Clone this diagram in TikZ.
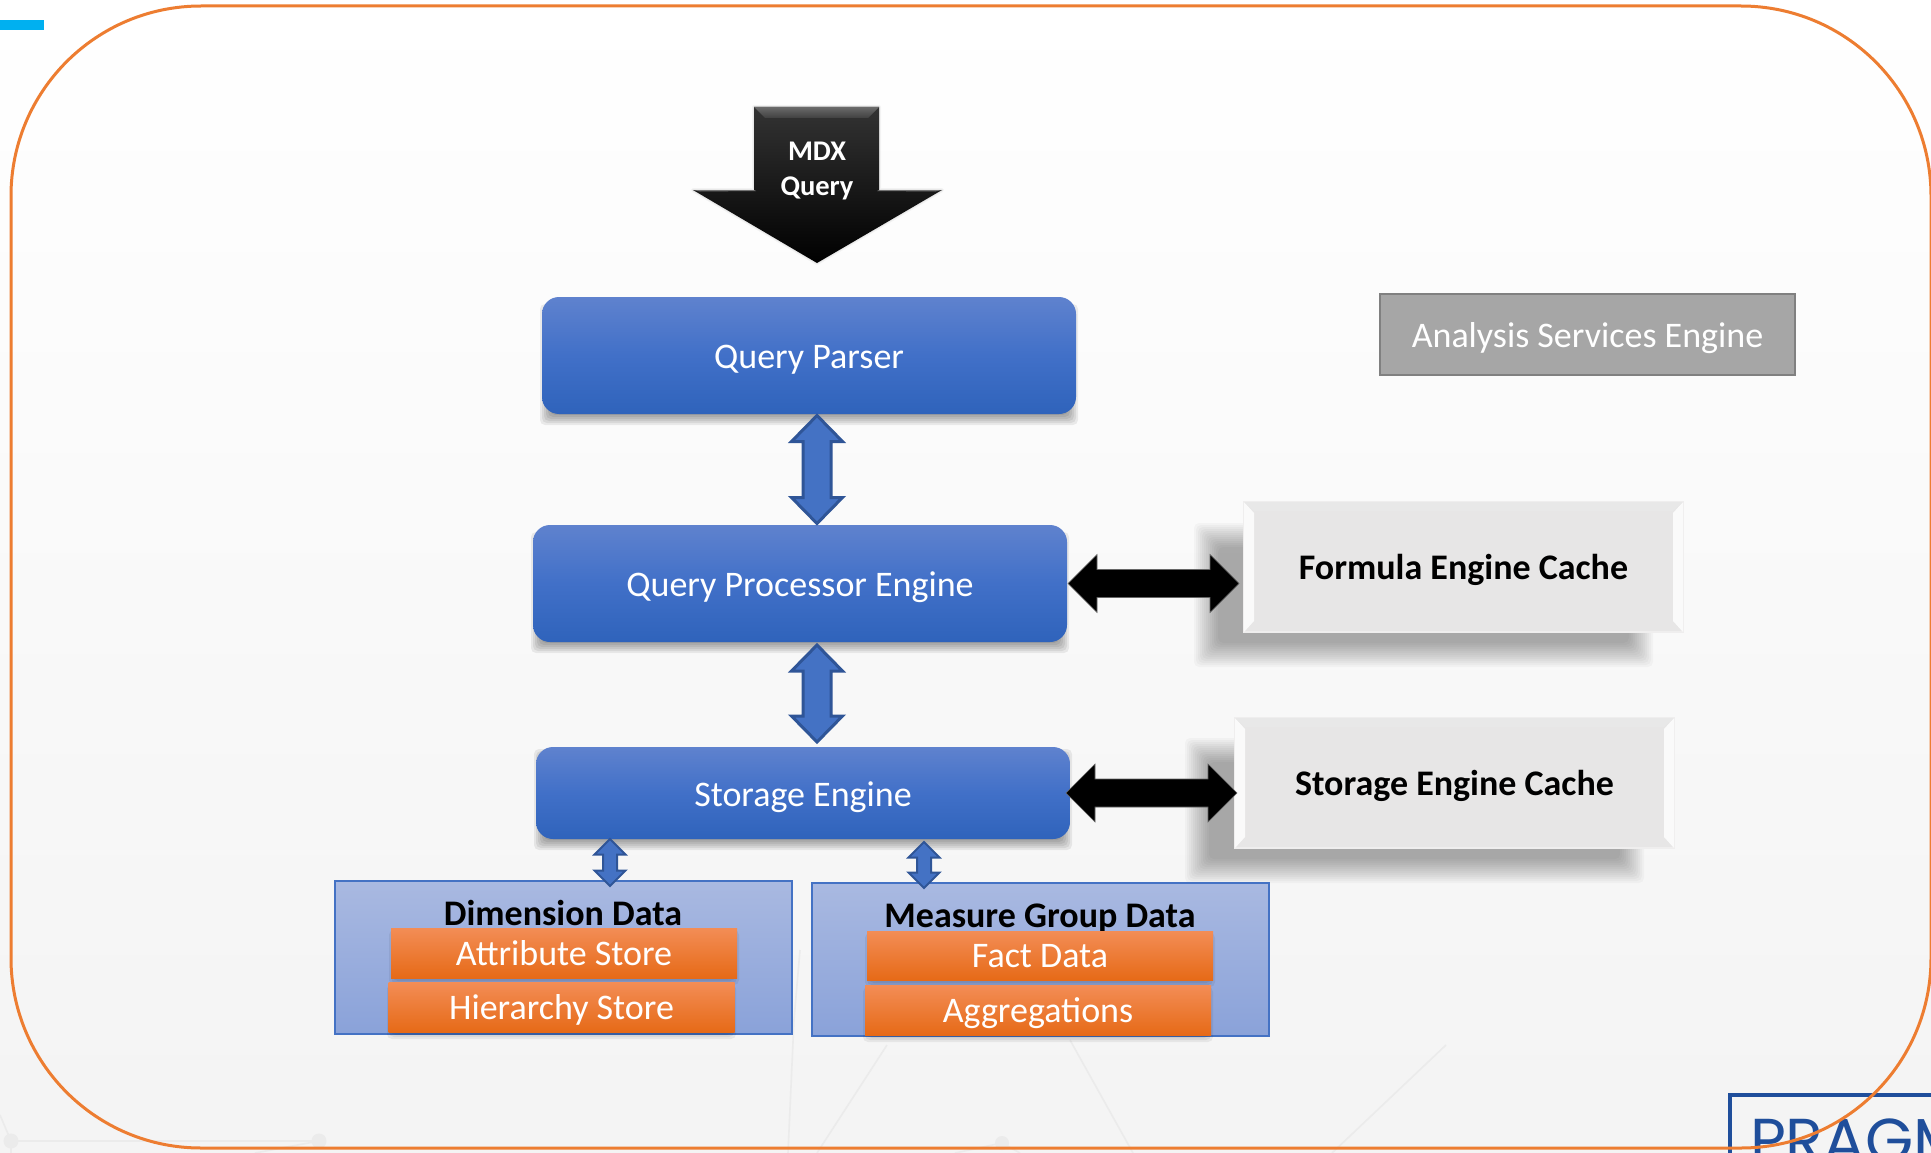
\documentclass[tikz,border=0pt]{standalone}
\usepackage{fontspec}
\setmainfont{Carlito}
\newfontfamily\logofont{Poppins}
\usetikzlibrary{calc}
\definecolor{framecol}{HTML}{ED7D31}
\definecolor{blueedge}{HTML}{2F5597}
\definecolor{bluefill}{HTML}{4472C4}
\definecolor{logoblue}{HTML}{1F4E9B}
\definecolor{faint}{HTML}{EBEBEB}
\definecolor{accentbar}{HTML}{00B0F0}
\definecolor{enginetop}{HTML}{5F82CE}
\definecolor{enginemid}{HTML}{4170C8}
\definecolor{enginebot}{HTML}{2F63BB}
\definecolor{cachefill}{HTML}{E7E6E6}
\definecolor{cacheedge}{HTML}{EFEEEE}
\definecolor{bevelwhite}{HTML}{FAFAFA}
\definecolor{orangetop}{HTML}{F38D56}
\definecolor{orangemid}{HTML}{F67B2A}
\definecolor{orangebot}{HTML}{E66A17}
\definecolor{datatop}{HTML}{A9B9E1}
\definecolor{databot}{HTML}{8AA2D9}
\newcommand\softshadow[6]{%
  \foreach \k [evaluate=\k as \i using 2*\k-#5] in {0,...,#5}{%
    \fill[black,opacity=#6,rounded corners=5pt] ({#1-\i},{#2-\i}) rectangle ({#3+\i},{#4+\i});
  }}
\tikzset{
  x=1pt,y=-1pt,
  plainbox/.style={inner sep=0pt,outer sep=0pt,align=center,anchor=center},
  enginebox/.style={plainbox,text height=26pt,text depth=0pt,rounded corners=17pt,minimum width=534pt,shade,
    top color=enginetop,bottom color=enginebot,middle color=enginemid,text=white,font=\fontsize{36}{40}\selectfont},
  cachebox/.style={plainbox,text height=25.5pt,text depth=0pt,minimum width=439pt,minimum height=130pt,fill=cachefill,draw=cacheedge,line width=1.5pt,
    font=\bfseries\fontsize{36}{40}\selectfont},
  storebox/.style={plainbox,text height=24pt,text depth=0pt,shade,top color=orangetop,middle color=orangemid,bottom color=orangebot,
    text=white,minimum height=50pt,minimum width=346pt,font=\fontsize{36}{40}\selectfont},
  databox/.style={plainbox,shade,top color=datatop,bottom color=databot,draw=bluefill,line width=1.5pt},
  datalabel/.style={plainbox,text height=23pt,text depth=0pt,font=\bfseries\fontsize{36}{40}\selectfont},
  dblv/.style n args={3}{to path={
    (\tikztostart) -- ($(\tikztostart)+(#1,#2)$) -- ($(\tikztostart)+(#3,#2)$)
    -- ($(\tikztotarget)+(#3,-#2)$) -- ($(\tikztotarget)+(#1,-#2)$) -- (\tikztotarget)
    -- ($(\tikztotarget)+(-#1,-#2)$) -- ($(\tikztotarget)+(-#3,-#2)$)
    -- ($(\tikztostart)+(-#3,#2)$) -- ($(\tikztostart)+(-#1,#2)$) -- cycle}},
  dblh/.style n args={3}{to path={
    (\tikztostart) -- ($(\tikztostart)+(#2,-#1)$) -- ($(\tikztostart)+(#2,-#3)$)
    -- ($(\tikztotarget)+(-#2,-#3)$) -- ($(\tikztotarget)+(-#2,-#1)$) -- (\tikztotarget)
    -- ($(\tikztotarget)+(-#2,#1)$) -- ($(\tikztotarget)+(-#2,#3)$)
    -- ($(\tikztostart)+(#2,#3)$) -- ($(\tikztostart)+(#2,#1)$) -- cycle}},
  bluearrow/.style={fill=bluefill,draw=blueedge,miter limit=10},
  blackarrow/.style={fill=black,draw=black!60,line width=.6pt,dblh={29}{29}{14}},
  bevel/.style={fill=bevelwhite},
  netline/.style={draw=faint,line width=1.6pt},
  netdot/.style={fill=faint},
}
\begin{document}
\begin{tikzpicture}
\useasboundingbox (0,0) rectangle (1931,1153);
\begin{scope}
\clip (0,0) rectangle (1931,1153);
% background
\shade[top color=white,bottom color=black!4.5] (0,0) rectangle (1931,1153);
% faint network of the slide background
\draw[netline] (0,1115) -- (11,1141) -- (11,1153) (11,1141) -- (319,1141);
\draw[netline] (319,1141) -- (255,1153);
\draw[netline] (800,950) -- (794,1020) -- (788,1153);
\draw[netline] (887,1045) -- (817,1153);
\draw[netline] (1070,1040) -- (1133,1153);
\draw[netline] (1446,1045) -- (1332,1153);
\draw[netline] (955,1153) -- (1002,1143) -- (1020,1153);
\fill[netdot] (11,1141) circle (7.5);
\fill[netdot] (319,1141) circle (7.5);
\fill[netdot] (1002,1143) circle (7);
% logo
\draw[logoblue,line width=4pt] (1730,1160) -- (1730,1095) -- (1940,1095);
\node[plainbox,anchor=base west,text=logoblue,font=\logofont\fontsize{62}{70}\selectfont] (logo) at (1750,1162) {PRAGM};
% accent bar
\fill[accentbar] (0,20) rectangle (44,30);
% frame
\draw[framecol,line width=3pt,rounded corners=190pt] (11,6) rectangle (1931,1148);

% shadows of the blue boxes
\softshadow{546}{310}{1072}{419}{6}{.07}
\softshadow{537}{538}{1063}{647}{6}{.07}
\softshadow{540}{755}{1066}{844}{6}{.07}
% shadows of the caches
\softshadow{1206}{535}{1641}{655}{12}{.026}
\softshadow{1197}{750}{1632}{871}{12}{.026}

% MDX arrow
\foreach \w in {2,4}{
  \draw[black,opacity=.04,line width=\w pt,line join=round]
    (754,107) -- (879,107) -- (879,190) -- (942,190) -- (817,263) -- (693,190) -- (754,190) -- cycle;
}
\shade[top color=black!80,middle color=black,bottom color=black]
  (754,107) -- (879,107) -- (879,190) -- (942,190) -- (817,263) -- (693,190) -- (754,190) -- cycle;
\shade[top color=black!58,bottom color=black!75] (754,107) -- (879,107) -- (868,118) -- (765,118) -- cycle;
\fill[black!55] (693,190) -- (754,190) -- (756,191) -- (700,191.5) -- cycle;
\fill[black!55] (942,190) -- (879,190) -- (877,191) -- (935,191.5) -- cycle;
\node[plainbox,text=white,font=\bfseries\fontsize{28.5}{35}\selectfont] (mdx) at (817,170.5) {MDX\\Query};

% engine boxes
\node[enginebox,minimum height=117pt] (qp) at (809,355.5) {Query Parser};
\node[enginebox,minimum height=117pt] (qe) at (800,583.5) {Query Processor Engine};
\node[enginebox,minimum height=92pt] (se) at (803,793) {Storage Engine};
\coordinate (cx) at (817,0);
\coordinate (lx) at (610,0);
\coordinate (rx) at (924,0);

% caches
\node[cachebox] (fc) at (1463.5,567) {Formula Engine Cache};
\fill[bevel] (1244,502) -- (1254,513) -- (1254,621) -- (1244,632) -- cycle;
\fill[bevel] (1683,502) -- (1673,513) -- (1673,621) -- (1683,632) -- cycle;
\fill[black!9] (1244,502) -- (1683,502) -- (1673,511) -- (1254,511) -- cycle;
\node[cachebox] (sc) at (1454.5,783) {Storage Engine Cache};
\fill[bevel] (1235,718) -- (1245,729) -- (1245,837) -- (1235,848) -- cycle;
\fill[bevel] (1674,718) -- (1664,729) -- (1664,837) -- (1674,848) -- cycle;
\fill[black!9] (1235,718) -- (1674,718) -- (1664,727) -- (1245,727) -- cycle;

% analysis label
\node[plainbox,text height=26pt,text depth=0pt,minimum width=415pt,minimum height=81pt,fill=black!35,draw=black!50,line width=2.5pt,text=white,
  font=\fontsize{36}{40}\selectfont] (ase) at (1587.5,334.5) {Analysis Services Engine};

% data boxes
\node[databox,minimum width=457pt,minimum height=153pt] (dim) at (563.5,957.5) {};
\node[databox,minimum width=457pt,minimum height=153pt] (mg) at (1040.5,959.5) {};
\node[datalabel] (diml) at (563,914) {Dimension Data};
\node[datalabel] (mgl) at (1040,916) {Measure Group Data};
\softshadow{393}{934}{735}{981}{4}{.06}
\softshadow{391}{988}{732}{1035}{4}{.06}
\softshadow{869}{937}{1211}{983}{4}{.06}
\softshadow{867}{991}{1209}{1038}{4}{.06}
\node[storebox] (as) at (564,953) {Attribute Store};
\node[storebox] (hs) at (561.5,1007) {Hierarchy Store};
\node[storebox,minimum height=49pt] (fd) at (1040,955.5) {Fact Data};
\node[storebox] (ag) at (1038,1010) {Aggregations};

% connectors
\draw[bluearrow,line width=3pt,dblv={25.5}{26}{14}] ([yshift=-1.5pt]qp.south -| cx) to ([yshift=1.5pt]qe.north -| cx);
\draw[bluearrow,line width=3pt,dblv={25.5}{26}{14}] ([yshift=-3pt]qe.south -| cx) to ([yshift=5pt]se.north -| cx);
\draw[bluearrow,line width=2pt,dblv={15.5}{15.5}{7}] (se.south -| lx) to ([yshift=-5pt]dim.north -| lx);
\draw[bluearrow,line width=2pt,dblv={15.5}{15.5}{7}] ([yshift=-3pt]se.south -| rx) to ([yshift=-5pt]mg.north -| rx);
\draw[blackarrow] ([xshift=1pt]qe.east) to ([xshift=-5pt]qe.east -| fc.west);
\draw[blackarrow] ([xshift=-4pt]se.east) to ([xshift=2pt]se.east -| sc.west);
\end{scope}
\end{tikzpicture}
\end{document}
